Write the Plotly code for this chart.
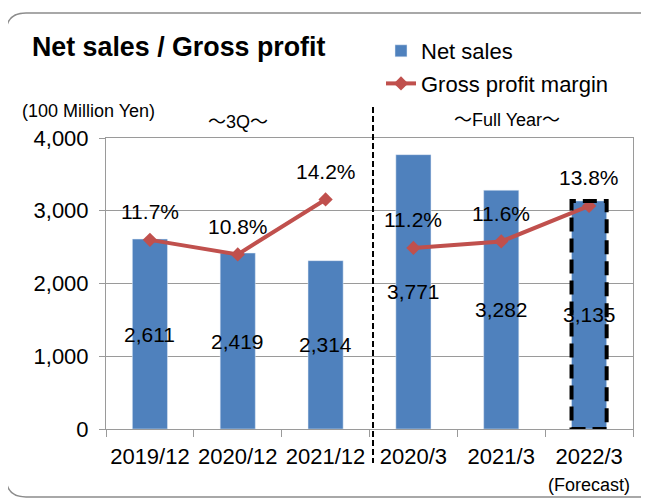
import plotly.graph_objects as go

categories = ["2019/12", "2020/12", "2021/12", "2020/3", "2021/3", "2022/3"]
net_sales = [2611, 2419, 2314, 3771, 3282, 3135]
gross_margin = [11.7, 10.8, 14.2, 11.2, 11.6, 13.8]
period_labels = ["～3Q～", "～Full Year～"]
forecast_note = "(Forecast)"
unit_label = "(100 Million Yen)"

FONT = "Liberation Sans, Arial, Noto Sans CJK JP, sans-serif"
BLUE = "#4F81BD"
RED = "#C0504D"
GRID = "#9A9A9A"

W, H = 649, 500
OFF = 8  # page body margin shifts the figure
L, R, T, B = 98, 24, 130, 79

# on-screen plot box
PL, PB = L + OFF, H - B + OFF
PW, PH = W - L - R, H - T - B


def px_x(p):
    return (p - PL) / PW


def px_y(p):
    return (PB - p) / PH


fig = go.Figure()
fig.add_trace(go.Bar(x=categories, y=net_sales, name="Net sales", marker_color=BLUE,
                     width=0.4, legendgroup="a"))
fig.add_trace(go.Scatter(x=categories[:3], y=gross_margin[:3], name="Gross profit margin",
                         mode="lines+markers", yaxis="y2", legendgroup="b",
                         line=dict(color=RED, width=4),
                         marker=dict(symbol="diamond", size=11, color=RED)))
fig.add_trace(go.Scatter(x=categories[3:], y=gross_margin[3:], name="Gross profit margin",
                         mode="lines+markers", yaxis="y2", legendgroup="b", showlegend=False,
                         line=dict(color=RED, width=4),
                         marker=dict(symbol="diamond", size=11, color=RED)))

ann = []
for c, v in zip(categories, net_sales):
    ann.append(dict(x=c, y=v / 2, xref="x", yref="y", text=f"{v:,}", showarrow=False,
                    font=dict(size=21, color="black")))
for c, m in zip(categories, gross_margin):
    ann.append(dict(x=c, y=m, xref="x", yref="y2", text=f"{m:.1f}%", showarrow=False,
                    yshift=28, font=dict(size=21, color="black")))
small = dict(size=18, color="black", family="Liberation Sans, Noto Sans CJK JP")
ann.append(dict(x=1, y=px_y(122), xref="x", yref="paper", text=period_labels[0],
                xanchor="center", yanchor="middle", showarrow=False, font=small))
ann.append(dict(x=4.07, y=px_y(120), xref="x", yref="paper", text=period_labels[1],
                xanchor="center", yanchor="middle", showarrow=False, font=small))
ann.append(dict(x=5, y=px_y(485), xref="x", yref="paper", text=forecast_note,
                xanchor="center", yanchor="middle", showarrow=False, font=small))
ann.append(dict(x=px_x(88), y=px_y(111), xref="paper", yref="paper", text=unit_label,
                xanchor="center", yanchor="middle", showarrow=False, font=small))

# rounded outer frame
x0, x1, y0, y1, rad = px_x(6), px_x(662), px_y(13), px_y(497), 20
rx, ry = rad / PW, rad / PH
frame = (f"M {x0+rx} {y0} L {x1-rx} {y0} Q {x1} {y0} {x1} {y0-ry} "
         f"L {x1} {y1+ry} Q {x1} {y1} {x1-rx} {y1} L {x0+rx} {y1} "
         f"Q {x0} {y1} {x0} {y1+ry} L {x0} {y0-ry} Q {x0} {y0} {x0+rx} {y0} Z")

last = len(categories) - 1
shapes = [
    dict(type="path", path=frame, xref="paper", yref="paper",
         line=dict(color="#8C8C8C", width=1.5), layer="below"),
    dict(type="line", x0=2.54, x1=2.54, xref="x", y0=px_y(107), y1=px_y(463), yref="paper",
         line=dict(color="black", width=2, dash="6px,3px")),
    dict(type="rect", x0=last - 0.2, x1=last + 0.2, y0=0, y1=net_sales[last],
         xref="x", yref="y", line=dict(color="black", width=4, dash="14px,7px")),
]

fig.update_layout(
    width=W, height=H,
    margin=dict(l=L, r=R, t=T, b=B),
    paper_bgcolor="white", plot_bgcolor="white",
    font=dict(family=FONT, size=21, color="black"),
    title=dict(text="Net sales / Gross profit", x=(32 - OFF) / W, xanchor="left",
               y=1 - (47 - OFF) / H, yanchor="middle",
               font=dict(size=26.8, weight="bold", color="black")),
    showlegend=True,
    legend=dict(x=px_x(381), y=px_y(30), xanchor="left", yanchor="top",
                traceorder="grouped", tracegroupgap=1, bgcolor="rgba(0,0,0,0)",
                font=dict(size=22)),
    xaxis=dict(type="category", showline=True, linecolor=GRID, mirror=True,
               ticks="outside", tickson="boundaries", ticklen=7, tickcolor=GRID,
               showgrid=False, tickfont=dict(size=22), tickangle=0,
               ticklabelstandoff=8, automargin=False),
    yaxis=dict(range=[0, 4000], dtick=1000, tickformat=",d", showline=True,
               linecolor=GRID, mirror=True, ticks="outside", ticklen=6, tickcolor=GRID,
               gridcolor=GRID, gridwidth=1, tickfont=dict(size=22),
               ticklabelstandoff=6, zeroline=False, automargin=False),
    yaxis2=dict(range=[0, 18], overlaying="y", visible=False),
    annotations=ann,
    shapes=shapes,
)

fig.write_html("out.html")
